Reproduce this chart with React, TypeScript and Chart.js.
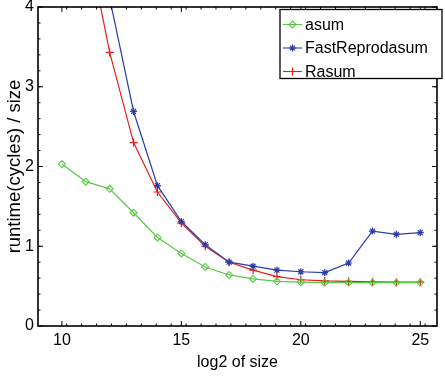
import { useEffect, useRef } from "react";
import { Chart, registerables } from "chart.js";

Chart.register(...registerables);

const sizes = [10, 11, 12, 13, 14, 15, 16, 17, 18, 19, 20, 21, 22, 23, 24, 25];
const asum = [2.03, 1.81, 1.72, 1.42, 1.11, 0.91, 0.74, 0.64, 0.59, 0.56, 0.55, 0.545, 0.545, 0.545, 0.545, 0.545];
const fastReprodasum = [7.0, 5.6, 4.11, 2.69, 1.76, 1.31, 1.02, 0.8, 0.75, 0.7, 0.68, 0.67, 0.79, 1.19, 1.15, 1.17];
const rasum = [7.2, 4.93, 3.43, 2.3, 1.68, 1.29, 1.0, 0.8, 0.7, 0.62, 0.58, 0.565, 0.56, 0.555, 0.55, 0.55];
const xTicks = [10, 15, 20, 25];
const yTicks = [0, 1, 2, 3, 4];

const GREEN = "rgb(90,200,70)";
const BLUE = "rgb(40,60,170)";
const RED = "rgb(230,30,30)";
const FONT = "'Liberation Sans', Arial, Helvetica, sans-serif";

function drawMarker(ctx: CanvasRenderingContext2D, style: string, x: number, y: number, r: number, color: string) {
  ctx.save();
  ctx.strokeStyle = color;
  ctx.lineWidth = 1.1;
  ctx.beginPath();
  if (style === "rectRot") {
    ctx.moveTo(x, y - r);
    ctx.lineTo(x + r, y);
    ctx.lineTo(x, y + r);
    ctx.lineTo(x - r, y);
    ctx.closePath();
  } else if (style === "star") {
    ctx.moveTo(x - r, y);
    ctx.lineTo(x + r, y);
    ctx.moveTo(x, y - r);
    ctx.lineTo(x, y + r);
    const d = r * Math.SQRT1_2;
    ctx.moveTo(x - d, y - d);
    ctx.lineTo(x + d, y + d);
    ctx.moveTo(x - d, y + d);
    ctx.lineTo(x + d, y - d);
  } else {
    ctx.moveTo(x - r, y);
    ctx.lineTo(x + r, y);
    ctx.moveTo(x, y - r);
    ctx.lineTo(x, y + r);
  }
  ctx.stroke();
  ctx.restore();
}

const framePlugin = {
  id: "frame",
  afterDraw(chart: any) {
    const { ctx, chartArea: a, scales } = chart;
    const xs = scales.x;
    const ys = scales.y;
    ctx.save();
    ctx.strokeStyle = "#000";
    ctx.lineWidth = 1;
    // minor ticks
    ctx.beginPath();
    for (let v = 10.2; v < xs.max; v += 0.625) {
      const px = xs.getPixelForValue(v);
      if (px <= a.left + 1 || px >= a.right - 1) continue;
      ctx.moveTo(px, a.bottom);
      ctx.lineTo(px, a.bottom - 2.5);
      ctx.moveTo(px, a.top);
      ctx.lineTo(px, a.top + 2.5);
    }
    for (let v = 0.2; v < ys.max; v += 0.2) {
      const py = ys.getPixelForValue(v);
      ctx.moveTo(a.left, py);
      ctx.lineTo(a.left + 2.5, py);
      ctx.moveTo(a.right, py);
      ctx.lineTo(a.right - 2.5, py);
    }
    ctx.stroke();
    // major ticks
    ctx.beginPath();
    for (const v of xTicks) {
      const px = xs.getPixelForValue(v);
      ctx.moveTo(px, a.bottom);
      ctx.lineTo(px, a.bottom - 5);
      ctx.moveTo(px, a.top);
      ctx.lineTo(px, a.top + 5);
    }
    for (const v of yTicks) {
      const py = ys.getPixelForValue(v);
      ctx.moveTo(a.left, py);
      ctx.lineTo(a.left + 5, py);
      ctx.moveTo(a.right, py);
      ctx.lineTo(a.right - 5, py);
    }
    ctx.stroke();
    ctx.lineWidth = 1.6;
    ctx.strokeRect(a.left, a.top, a.right - a.left, a.bottom - a.top);

    // legend
    const bx = a.left + 242;
    const by = a.top + 2.5;
    const bw = a.right + 5 - bx;
    const bh = 69;
    ctx.fillStyle = "#fff";
    ctx.fillRect(bx, by, bw, bh);
    ctx.lineWidth = 1.3;
    ctx.strokeRect(bx, by, bw, bh);
    ctx.font = `16px ${FONT}`;
    ctx.textBaseline = "middle";
    ctx.textAlign = "left";
    chart.data.datasets.forEach((ds: any, i: number) => {
      const y = by + 15 + i * 23.5;
      ctx.strokeStyle = ds.borderColor;
      ctx.lineWidth = 1.1;
      ctx.beginPath();
      ctx.moveTo(bx + 3, y);
      ctx.lineTo(bx + 22, y);
      ctx.stroke();
      drawMarker(ctx, ds.pointStyle, bx + 12.5, y, ds.pointRadius, ds.borderColor);
      ctx.fillStyle = "#000";
      ctx.fillText(ds.label, bx + 25, y + 1);
    });
    ctx.restore();
  },
};

export default function App() {
  const ref = useRef<HTMLCanvasElement | null>(null);
  useEffect(() => {
    document.body.style.margin = "0";
    if (!ref.current) return;
    Chart.defaults.font.family = FONT;
    const mk = (arr: number[]) => sizes.map((s, i) => ({ x: s, y: arr[i] }));
    const chart = new Chart(ref.current, {
      type: "line",
      data: {
        datasets: [
          {
            label: "asum",
            data: mk(asum),
            borderColor: GREEN,
            backgroundColor: "rgba(0,0,0,0)",
            borderWidth: 1.2,
            pointStyle: "rectRot",
            pointRadius: 3.5,
            pointBorderWidth: 1.1,
          },
          {
            label: "FastReprodasum",
            data: mk(fastReprodasum),
            borderColor: BLUE,
            backgroundColor: "rgba(0,0,0,0)",
            borderWidth: 1.2,
            pointStyle: "star",
            pointRadius: 3.5,
            pointBorderWidth: 1.2,
          },
          {
            label: "Rasum",
            data: mk(rasum),
            borderColor: RED,
            backgroundColor: "rgba(0,0,0,0)",
            borderWidth: 1.2,
            pointStyle: "cross",
            pointRadius: 4,
            pointBorderWidth: 1.2,
          },
        ],
      },
      options: {
        responsive: false,
        animation: false,
        layout: { padding: { left: 0, top: 7, right: 8, bottom: 0 } },
        plugins: { legend: { display: false }, tooltip: { enabled: false } },
        scales: {
          x: {
            type: "linear",
            min: 9,
            max: 25.7,
            grid: { display: false, drawTicks: false },
            border: { display: false },
            afterBuildTicks: (s: any) => {
              s.ticks = xTicks.map((v) => ({ value: v }));
            },
            afterFit: (s: any) => {
              s.height = 50;
              s.paddingLeft = 0;
              s.paddingRight = 0;
            },
            ticks: { color: "#000", font: { size: 16 }, padding: 5, maxRotation: 0 },
            title: {
              display: true,
              text: "log2 of size",
              color: "#000",
              font: { size: 16 },
              padding: { top: 0, bottom: 4 },
            },
          },
          y: {
            type: "linear",
            min: 0,
            max: 4,
            grid: { display: false, drawTicks: false },
            border: { display: false },
            afterBuildTicks: (s: any) => {
              s.ticks = yTicks.map((v) => ({ value: v }));
            },
            afterFit: (s: any) => {
              s.width = 38;
              s.paddingTop = 0;
              s.paddingBottom = 0;
            },
            ticks: { color: "#000", font: { size: 16 }, padding: 4 },
            title: {
              display: true,
              text: "runtime(cycles) / size",
              color: "#000",
              font: { size: 18.5 },
              padding: { top: 4, bottom: 0 },
            },
          },
        },
      },
      plugins: [framePlugin],
    });
    return () => chart.destroy();
  }, []);
  return (
    <div style={{ width: 445, height: 376 }}>
      <canvas ref={ref} width={445} height={376} style={{ display: "block" }} />
    </div>
  );
}
